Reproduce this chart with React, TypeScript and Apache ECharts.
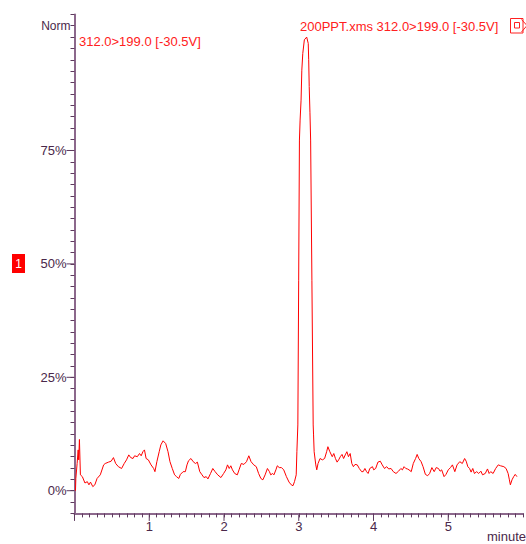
import React, { useEffect, useRef } from "react";
import * as echarts from "echarts";

// retention time (minutes)
const times = [
  0.013, 0.018, 0.035, 0.049, 0.056, 0.066, 0.079, 0.105, 0.140, 0.171,
  0.193, 0.214, 0.245, 0.272, 0.302, 0.345, 0.390, 0.411, 0.455, 0.490,
  0.521, 0.551, 0.587, 0.630, 0.665, 0.696, 0.726, 0.752, 0.783, 0.804,
  0.840, 0.870, 0.892, 0.915, 0.936, 0.958, 0.988, 1.024, 1.059, 1.076,
  1.102, 1.133, 1.155, 1.185, 1.220, 1.251, 1.277, 1.308, 1.339, 1.365,
  1.395, 1.417, 1.453, 1.483, 1.505, 1.525, 1.558, 1.588, 1.618, 1.644,
  1.676, 1.706, 1.732, 1.762, 1.785, 1.820, 1.850, 1.881, 1.916, 1.959,
  1.995, 2.025, 2.047, 2.070, 2.091, 2.113, 2.143, 2.178, 2.201, 2.231,
  2.266, 2.301, 2.332, 2.362, 2.398, 2.432, 2.463, 2.493, 2.520, 2.550,
  2.581, 2.608, 2.625, 2.651, 2.668, 2.694, 2.713, 2.739, 2.769, 2.799,
  2.835, 2.870, 2.900, 2.923, 2.943, 2.966, 2.975, 2.988, 2.999, 3.009,
  3.018, 3.031, 3.041, 3.054, 3.075, 3.106, 3.127, 3.133, 3.140, 3.150,
  3.159, 3.176, 3.193, 3.198, 3.206, 3.228, 3.241, 3.258, 3.285, 3.316,
  3.346, 3.373, 3.390, 3.416, 3.448, 3.469, 3.491, 3.513, 3.534, 3.556,
  3.579, 3.600, 3.622, 3.644, 3.665, 3.688, 3.710, 3.731, 3.753, 3.783,
  3.810, 3.841, 3.862, 3.885, 3.907, 3.928, 3.950, 3.986, 4.003, 4.029,
  4.059, 4.091, 4.117, 4.147, 4.177, 4.203, 4.235, 4.265, 4.301, 4.335,
  4.366, 4.387, 4.409, 4.432, 4.453, 4.475, 4.505, 4.532, 4.563, 4.584,
  4.606, 4.637, 4.663, 4.694, 4.724, 4.751, 4.781, 4.812, 4.839, 4.869,
  4.891, 4.912, 4.944, 4.970, 5.000, 5.030, 5.056, 5.088, 5.118, 5.154,
  5.188, 5.219, 5.240, 5.262, 5.285, 5.306, 5.328, 5.350, 5.381, 5.407,
  5.437, 5.459, 5.495, 5.525, 5.547, 5.568, 5.600, 5.634, 5.669, 5.699,
  5.744, 5.774, 5.801, 5.818, 5.831, 5.853, 5.875, 5.896, 5.919,
];

// normalised intensity (%)
const intensities = [
  0.0, 2.7, 6.0, 9.0, 6.8, 11.3, 3.5, 3.1, 1.7, 2.0,
  1.3, 1.9, 0.9, 1.3, 2.7, 3.5, 5.7, 6.0, 6.3, 6.5,
  7.3, 6.0, 5.3, 4.9, 6.0, 6.8, 7.9, 7.3, 7.1, 7.7,
  7.5, 8.2, 7.7, 8.6, 9.0, 7.1, 6.8, 5.7, 4.9, 4.2,
  6.4, 8.6, 10.1, 11.0, 10.4, 8.6, 6.4, 4.9, 3.5, 3.1,
  2.7, 3.6, 4.2, 4.2, 5.7, 6.6, 7.1, 6.4, 6.0, 6.3,
  4.2, 3.5, 2.9, 3.1, 2.6, 3.8, 4.9, 4.2, 3.5, 2.9,
  3.8, 4.6, 5.7, 4.9, 5.5, 4.6, 3.8, 3.5, 4.6, 6.0,
  5.8, 6.4, 7.7, 6.4, 5.7, 5.3, 3.8, 2.7, 2.4, 3.5,
  4.9, 4.2, 3.5, 3.8, 3.5, 4.6, 5.5, 5.1, 5.1, 4.6,
  3.1, 1.9, 1.3, 1.1, 2.0, 3.5, 8.6, 14.5, 46.4, 77.3,
  81.7, 86.1, 92.7, 96.4, 99.4, 100.0, 98.6, 95.0, 89.1, 83.3,
  77.3, 46.4, 14.5, 12.3, 8.6, 5.7, 4.6, 6.0, 7.1, 6.8,
  7.1, 8.6, 9.7, 8.6, 7.5, 8.2, 7.1, 6.3, 6.8, 7.5,
  8.0, 7.1, 7.9, 8.6, 7.5, 8.2, 6.0, 5.3, 5.8, 5.7,
  4.9, 4.2, 4.2, 4.9, 4.2, 3.8, 4.9, 5.3, 4.6, 4.9,
  6.3, 6.5, 5.7, 4.9, 5.3, 4.8, 4.9, 4.2, 3.8, 4.3,
  4.9, 4.6, 5.3, 4.9, 4.8, 4.6, 4.2, 6.0, 7.1, 8.0,
  7.1, 6.4, 5.3, 3.6, 3.3, 3.8, 5.1, 4.2, 5.1, 4.9,
  4.3, 4.6, 3.1, 3.6, 4.6, 5.1, 5.7, 4.2, 5.7, 6.4,
  6.0, 7.1, 6.5, 5.3, 4.9, 4.1, 4.9, 3.8, 4.2, 3.8,
  4.3, 3.5, 3.8, 4.8, 3.8, 4.2, 3.8, 4.9, 5.7, 5.5,
  5.3, 4.9, 3.8, 2.4, 1.3, 2.4, 3.1, 3.6, 3.1,
];

const yLabelValues = [0, 25, 50, 75];
const xLabelValues = [1, 2, 3, 4, 5];
const xMajorTicks = [0, 1, 2, 3, 4, 5];
const normLevel = 102.5;
const normText = "Norm";
const traceLabel = "312.0>199.0 [-30.5V]";
const titleText = "200PPT.xms 312.0>199.0 [-30.5V]";
const xUnit = "minutes";
const plotIndex = "1";

export default function App() {
  const ref = useRef<HTMLDivElement>(null);

  useEffect(() => {
    document.body.style.margin = "0";
    const chart = echarts.init(ref.current!, null, { renderer: "svg" });
    const axisColor = "#8c688c";
    const tickColor = "#5e3a5e";
    const labelColor = "#4a284a";
    const red = "#ff0000";
    const font = "'Liberation Sans', Arial, sans-serif";

    const near = (v: number, list: number[]) =>
      list.some((t) => Math.abs(v - t) < 1e-6);

    chart.setOption({
      animation: false,
      grid: { left: 74.5, top: 14.4, width: 457.2, height: 499 },
      xAxis: {
        type: "value",
        min: 0,
        max: 6,
        interval: 0.1,
        axisLine: { onZero: false, lineStyle: { color: axisColor, width: 2 } },
        axisTick: { length: 4, lineStyle: { color: tickColor } },
        axisLabel: {
          color: labelColor,
          fontSize: 13,
          fontFamily: font,
          margin: 7,
          showMinLabel: true,
          showMaxLabel: true,
          formatter: (v: number) => (near(v, xLabelValues) ? String(Math.round(v)) : ""),
        },
        splitLine: { show: false },
      },
      yAxis: {
        type: "value",
        min: -5,
        max: 105,
        interval: 2.5,
        axisLine: { show: true, onZero: false, lineStyle: { color: axisColor, width: 2 } },
        axisTick: { show: true, length: 4, lineStyle: { color: tickColor } },
        axisLabel: {
          color: labelColor,
          fontSize: 13,
          fontFamily: font,
          margin: 8,
          formatter: (v: number) => (near(v, yLabelValues) ? Math.round(v) + "%" : ""),
        },
        splitLine: { show: false },
      },
      series: [
        {
          type: "line",
          data: times.map((t, i) => [t, intensities[i]]),
          showSymbol: false,
          silent: true,
          lineStyle: { color: red, width: 1 },
          itemStyle: { color: red },
        },
      ],
    });

    const x0 = chart.convertToPixel({ xAxisIndex: 0 }, 0) as number;
    const yb = chart.convertToPixel({ yAxisIndex: 0 }, -5) as number;
    const graphics: any[] = [];
    yLabelValues.forEach((v) => {
      const y = chart.convertToPixel({ yAxisIndex: 0 }, v) as number;
      graphics.push({
        type: "line",
        shape: { x1: x0 - 8, y1: y, x2: x0, y2: y },
        style: { stroke: tickColor, lineWidth: 1 },
        silent: true,
      });
    });
    xMajorTicks.forEach((v) => {
      const x = chart.convertToPixel({ xAxisIndex: 0 }, v) as number;
      graphics.push({
        type: "line",
        shape: { x1: x, y1: yb, x2: x, y2: yb + 7.5 },
        style: { stroke: tickColor, lineWidth: 1 },
        silent: true,
      });
    });
    const yNorm = chart.convertToPixel({ yAxisIndex: 0 }, normLevel) as number;
    graphics.push({
      type: "text",
      x: x0 - 4,
      y: yNorm,
      style: {
        text: normText,
        fill: labelColor,
        font: `12px ${font}`,
        align: "right",
        verticalAlign: "middle",
      },
    });
    graphics.push({
      type: "text",
      x: 79,
      y: 41.5,
      style: { text: traceLabel, fill: "#ff2020", font: `13px ${font}`, align: "left", verticalAlign: "middle" },
    });
    graphics.push({
      type: "text",
      x: 300,
      y: 26,
      style: { text: titleText, fill: "#ff2020", font: `13px ${font}`, align: "left", verticalAlign: "middle" },
    });
    graphics.push({
      type: "rect",
      shape: { x: 510.5, y: 18.5, width: 12.5, height: 14.5 },
      style: { stroke: "#ff2020", fill: "none", lineWidth: 1 },
    });
    graphics.push({
      type: "rect",
      shape: { x: 514.5, y: 22.5, width: 5, height: 5.5 },
      style: { stroke: "#ff2020", fill: "none", lineWidth: 1 },
    });
    graphics.push({
      type: "polyline",
      shape: { points: [[521.5, 19.5], [527, 25.5], [521.5, 32]] },
      style: { stroke: "#ff2020", fill: "none", lineWidth: 1 },
    });
    graphics.push({
      type: "rect",
      shape: { x: 12, y: 254, width: 13, height: 19 },
      style: { fill: "#ff0000" },
    });
    graphics.push({
      type: "text",
      x: 18.5,
      y: 264,
      style: { text: plotIndex, fill: "#ffffff", font: `12px ${font}`, align: "center", verticalAlign: "middle" },
    });
    graphics.push({
      type: "text",
      x: 487,
      y: 536.5,
      style: { text: xUnit, fill: labelColor, font: `13px ${font}`, align: "left", verticalAlign: "middle" },
    });

    chart.setOption({ graphic: graphics });

    return () => {
      chart.dispose();
    };
  }, []);

  return (
    <div
      ref={ref}
      style={{ position: "absolute", left: 0, top: 0, width: 526, height: 544, background: "#ffffff" }}
    />
  );
}
